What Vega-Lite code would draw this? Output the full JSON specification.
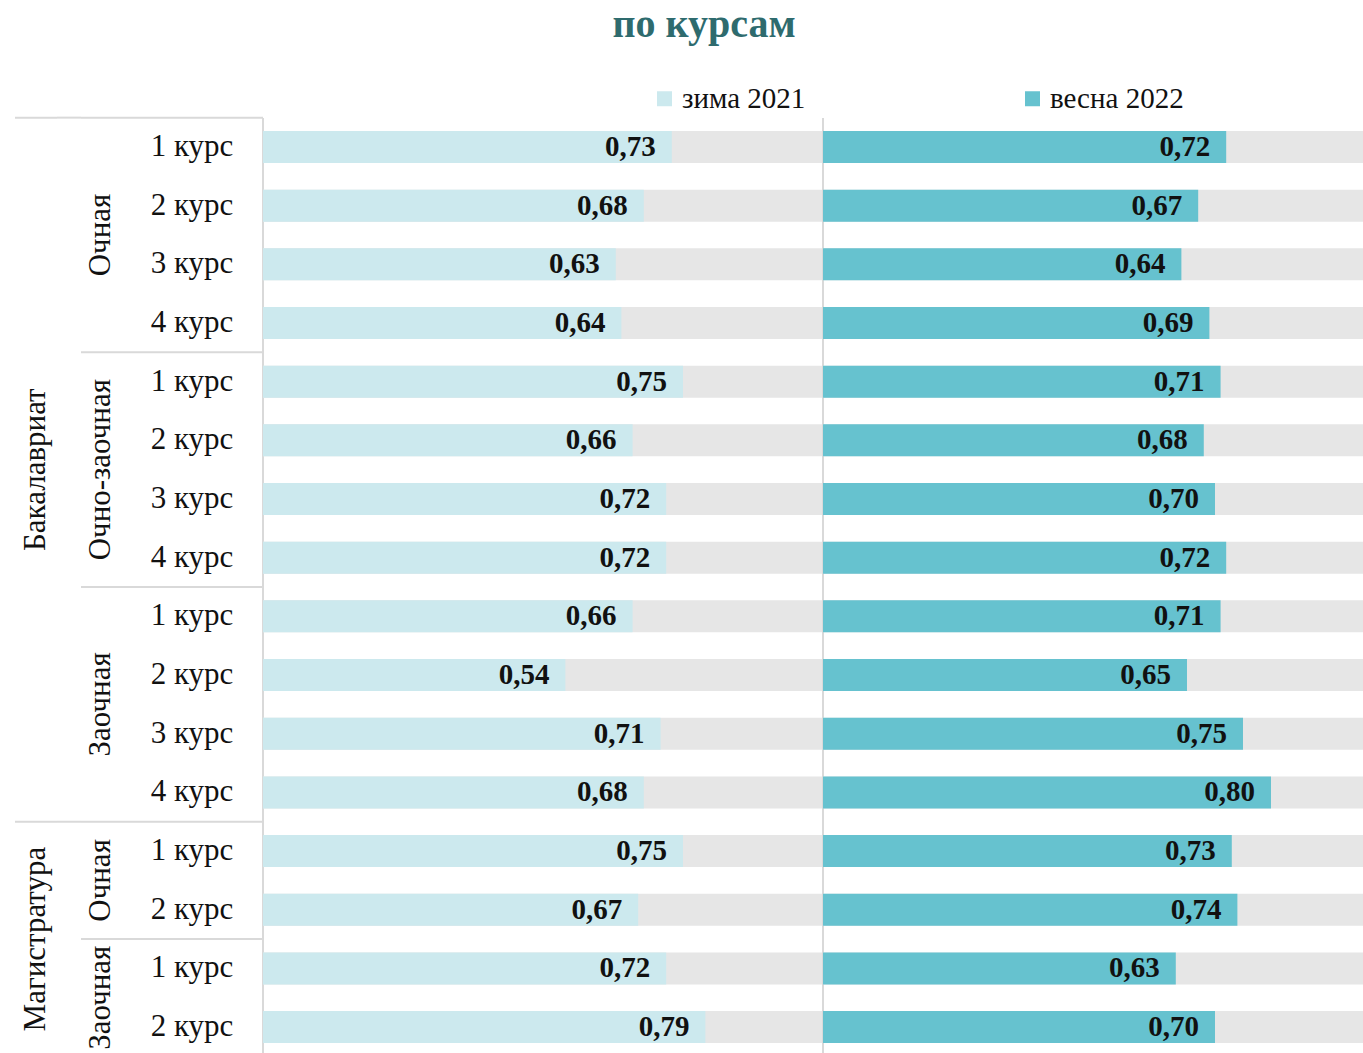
{
  "$schema": "https://vega.github.io/schema/vega-lite/v6.json",
  "padding": {"left": 14, "top": 5, "right": 0, "bottom": 0},
  "autosize": {"type": "pad"},
  "background": "white",
  "title": {"text": "по курсам", "font": "Liberation Serif", "fontSize": 40, "fontWeight": "bold", "color": "#2E6B6E", "anchor": "middle", "offset": 39, "dx": 15},
  "data": {"values": [
    {"i": 0, "program": "Бакалавриат", "form": "Очная", "course": "1 курс", "season": "зима 2021", "value": 0.73},
    {"i": 1, "program": "Бакалавриат", "form": "Очная", "course": "2 курс", "season": "зима 2021", "value": 0.68},
    {"i": 2, "program": "Бакалавриат", "form": "Очная", "course": "3 курс", "season": "зима 2021", "value": 0.63},
    {"i": 3, "program": "Бакалавриат", "form": "Очная", "course": "4 курс", "season": "зима 2021", "value": 0.64},
    {"i": 4, "program": "Бакалавриат", "form": "Очно-заочная", "course": "1 курс", "season": "зима 2021", "value": 0.75},
    {"i": 5, "program": "Бакалавриат", "form": "Очно-заочная", "course": "2 курс", "season": "зима 2021", "value": 0.66},
    {"i": 6, "program": "Бакалавриат", "form": "Очно-заочная", "course": "3 курс", "season": "зима 2021", "value": 0.72},
    {"i": 7, "program": "Бакалавриат", "form": "Очно-заочная", "course": "4 курс", "season": "зима 2021", "value": 0.72},
    {"i": 8, "program": "Бакалавриат", "form": "Заочная", "course": "1 курс", "season": "зима 2021", "value": 0.66},
    {"i": 9, "program": "Бакалавриат", "form": "Заочная", "course": "2 курс", "season": "зима 2021", "value": 0.54},
    {"i": 10, "program": "Бакалавриат", "form": "Заочная", "course": "3 курс", "season": "зима 2021", "value": 0.71},
    {"i": 11, "program": "Бакалавриат", "form": "Заочная", "course": "4 курс", "season": "зима 2021", "value": 0.68},
    {"i": 12, "program": "Магистратура", "form": "Очная", "course": "1 курс", "season": "зима 2021", "value": 0.75},
    {"i": 13, "program": "Магистратура", "form": "Очная", "course": "2 курс", "season": "зима 2021", "value": 0.67},
    {"i": 14, "program": "Магистратура", "form": "Заочная", "course": "1 курс", "season": "зима 2021", "value": 0.72},
    {"i": 15, "program": "Магистратура", "form": "Заочная", "course": "2 курс", "season": "зима 2021", "value": 0.79},
    {"i": 0, "program": "Бакалавриат", "form": "Очная", "course": "1 курс", "season": "весна 2022", "value": 0.72},
    {"i": 1, "program": "Бакалавриат", "form": "Очная", "course": "2 курс", "season": "весна 2022", "value": 0.67},
    {"i": 2, "program": "Бакалавриат", "form": "Очная", "course": "3 курс", "season": "весна 2022", "value": 0.64},
    {"i": 3, "program": "Бакалавриат", "form": "Очная", "course": "4 курс", "season": "весна 2022", "value": 0.69},
    {"i": 4, "program": "Бакалавриат", "form": "Очно-заочная", "course": "1 курс", "season": "весна 2022", "value": 0.71},
    {"i": 5, "program": "Бакалавриат", "form": "Очно-заочная", "course": "2 курс", "season": "весна 2022", "value": 0.68},
    {"i": 6, "program": "Бакалавриат", "form": "Очно-заочная", "course": "3 курс", "season": "весна 2022", "value": 0.70},
    {"i": 7, "program": "Бакалавриат", "form": "Очно-заочная", "course": "4 курс", "season": "весна 2022", "value": 0.72},
    {"i": 8, "program": "Бакалавриат", "form": "Заочная", "course": "1 курс", "season": "весна 2022", "value": 0.71},
    {"i": 9, "program": "Бакалавриат", "form": "Заочная", "course": "2 курс", "season": "весна 2022", "value": 0.65},
    {"i": 10, "program": "Бакалавриат", "form": "Заочная", "course": "3 курс", "season": "весна 2022", "value": 0.75},
    {"i": 11, "program": "Бакалавриат", "form": "Заочная", "course": "4 курс", "season": "весна 2022", "value": 0.80},
    {"i": 12, "program": "Магистратура", "form": "Очная", "course": "1 курс", "season": "весна 2022", "value": 0.73},
    {"i": 13, "program": "Магистратура", "form": "Очная", "course": "2 курс", "season": "весна 2022", "value": 0.74},
    {"i": 14, "program": "Магистратура", "form": "Заочная", "course": "1 курс", "season": "весна 2022", "value": 0.63},
    {"i": 15, "program": "Магистратура", "form": "Заочная", "course": "2 курс", "season": "весна 2022", "value": 0.70}
  ]},
  "spacing": 0,
  "bounds": "flush",
  "hconcat": [
    {
      "width": 42, "height": 935,
      "transform": [
        {"filter": "datum.season === 'зима 2021'"},
        {"joinaggregate": [{"op": "min", "field": "i", "as": "pmin"}, {"op": "count", "as": "pcount"}], "groupby": ["program"]}
      ],
      "layer": [
        {
          "transform": [{"filter": "datum.i === datum.pmin"}],
          "mark": {"type": "rule", "color": "#D9D9D9", "strokeWidth": 2},
          "encoding": {"y": {"field": "i", "type": "ordinal", "bandPosition": -0.4168, "axis": null,
            "scale": {"type": "band", "domain": [0,1,2,3,4,5,6,7,8,9,10,11,12,13,14,15], "paddingInner": 0.4546, "paddingOuter": 0.195, "align": 0.567}}}
        },
        {
          "transform": [{"filter": "datum.i === datum.pmin + datum.pcount / 2"}],
          "mark": {"type": "text", "angle": 270, "align": "center", "baseline": "middle", "font": "Liberation Serif", "fontSize": 31, "color": "#111111"},
          "encoding": {
            "y": {"field": "i", "type": "ordinal", "bandPosition": -0.4168, "axis": null},
            "text": {"field": "program", "type": "nominal"}
          }
        }
      ]
    },
    {
      "width": 24, "height": 935,
      "transform": [
        {"filter": "datum.season === 'зима 2021'"},
        {"joinaggregate": [{"op": "min", "field": "i", "as": "pmin"}], "groupby": ["program"]},
        {"filter": "datum.i === datum.pmin"}
      ],
      "mark": {"type": "rule", "color": "#D9D9D9", "strokeWidth": 2},
      "encoding": {"y": {"field": "i", "type": "ordinal", "bandPosition": -0.4168, "axis": null,
        "scale": {"type": "band", "domain": [0,1,2,3,4,5,6,7,8,9,10,11,12,13,14,15], "paddingInner": 0.4546, "paddingOuter": 0.195, "align": 0.567}}}
    },
    {
      "width": 40, "height": 935,
      "transform": [
        {"filter": "datum.season === 'зима 2021'"},
        {"joinaggregate": [{"op": "min", "field": "i", "as": "fmin"}, {"op": "count", "as": "fcount"}], "groupby": ["program", "form"]}
      ],
      "layer": [
        {
          "transform": [{"filter": "datum.i === datum.fmin"}],
          "mark": {"type": "rule", "color": "#D9D9D9", "strokeWidth": 2},
          "encoding": {"y": {"field": "i", "type": "ordinal", "bandPosition": -0.4168, "axis": null,
            "scale": {"type": "band", "domain": [0,1,2,3,4,5,6,7,8,9,10,11,12,13,14,15], "paddingInner": 0.4546, "paddingOuter": 0.195, "align": 0.567}}}
        },
        {
          "transform": [{"filter": "datum.i === datum.fmin + datum.fcount / 2"}],
          "mark": {"type": "text", "angle": 270, "align": "center", "baseline": "middle", "font": "Liberation Serif", "fontSize": 31, "color": "#111111"},
          "encoding": {
            "y": {"field": "i", "type": "ordinal", "bandPosition": -0.4168, "axis": null},
            "text": {"field": "form", "type": "nominal"}
          }
        }
      ]
    },
    {
      "width": 142, "height": 935,
      "transform": [
        {"filter": "datum.season === 'зима 2021'"},
        {"joinaggregate": [{"op": "min", "field": "i", "as": "fmin"}], "groupby": ["program", "form"]}
      ],
      "layer": [
        {
          "transform": [{"filter": "datum.i === datum.fmin"}],
          "mark": {"type": "rule", "color": "#D9D9D9", "strokeWidth": 2},
          "encoding": {"y": {"field": "i", "type": "ordinal", "bandPosition": -0.4168, "axis": null,
            "scale": {"type": "band", "domain": [0,1,2,3,4,5,6,7,8,9,10,11,12,13,14,15], "paddingInner": 0.4546, "paddingOuter": 0.195, "align": 0.567}}}
        },
        {
          "mark": {"type": "text", "align": "center", "baseline": "middle", "font": "Liberation Serif", "fontSize": 31, "color": "#111111"},
          "encoding": {
            "y": {"field": "i", "type": "ordinal", "axis": null},
            "text": {"field": "course", "type": "nominal"}
          }
        }
      ]
    },
    {
      "width": 560, "height": 935,
      "transform": [{"filter": "datum.season === 'зима 2021'"}],
      "encoding": {
        "y": {"field": "i", "type": "ordinal", "axis": null,
          "scale": {"type": "band", "domain": [0,1,2,3,4,5,6,7,8,9,10,11,12,13,14,15], "paddingInner": 0.4546, "paddingOuter": 0.195, "align": 0.567}}
      },
      "layer": [
        {
          "mark": {"type": "rule", "color": "#D9D9D9", "strokeWidth": 2},
          "encoding": {"y": null, "x": {"datum": 0, "type": "quantitative", "scale": {"domain": [0, 1], "nice": false, "zero": true}, "axis": null}}
        },
        {
          "mark": {"type": "bar", "color": "#E6E6E6"},
          "encoding": {"x": {"datum": 1, "type": "quantitative"}}
        },
        {
          "mark": {"type": "bar"},
          "encoding": {
            "x": {"field": "value", "type": "quantitative"},
            "color": {"field": "season", "type": "nominal",
              "scale": {"domain": ["зима 2021", "весна 2022"], "range": ["#CCE9EE", "#66C2CF"]},
              "legend": {"orient": "none", "legendX": 635, "legendY": -34, "direction": "horizontal", "title": null,
                "symbolType": "square", "symbolSize": 225, "symbolStrokeWidth": 0, "symbolOpacity": 1,
                "labelFont": "Liberation Serif", "labelFontSize": 29, "labelColor": "#111111", "labelOffset": 3,
                "columnPadding": 212, "labelLimit": 300}}
          }
        },
        {
          "mark": {"type": "text", "align": "right", "baseline": "middle", "dx": -16, "font": "Liberation Serif", "fontSize": 29, "fontWeight": "bold", "color": "#111111"},
          "encoding": {
            "x": {"field": "value", "type": "quantitative"},
            "text": {"field": "value", "type": "quantitative", "format": ".2f"}
          }
        }
      ]
    },
    {
      "width": 541, "height": 935,
      "transform": [{"filter": "datum.season === 'весна 2022'"}],
      "encoding": {
        "y": {"field": "i", "type": "ordinal", "axis": null,
          "scale": {"type": "band", "domain": [0,1,2,3,4,5,6,7,8,9,10,11,12,13,14,15], "paddingInner": 0.4546, "paddingOuter": 0.195, "align": 0.567}}
      },
      "layer": [
        {
          "mark": {"type": "rule", "color": "#D9D9D9", "strokeWidth": 2},
          "encoding": {"y": null, "x": {"datum": 0, "type": "quantitative", "scale": {"domain": [0, 0.9661], "nice": false, "zero": true, "clamp": true}, "axis": null}}
        },
        {
          "mark": {"type": "bar", "color": "#E6E6E6"},
          "encoding": {"x": {"datum": 1, "type": "quantitative"}}
        },
        {
          "mark": {"type": "bar"},
          "encoding": {
            "x": {"field": "value", "type": "quantitative"},
            "color": {"field": "season", "type": "nominal",
              "scale": {"domain": ["зима 2021", "весна 2022"], "range": ["#CCE9EE", "#66C2CF"]}}
          }
        },
        {
          "mark": {"type": "text", "align": "right", "baseline": "middle", "dx": -16, "font": "Liberation Serif", "fontSize": 29, "fontWeight": "bold", "color": "#111111"},
          "encoding": {
            "x": {"field": "value", "type": "quantitative"},
            "text": {"field": "value", "type": "quantitative", "format": ".2f"}
          }
        }
      ]
    }
  ],
  "config": {
    "view": {"stroke": null},
    "locale": {"number": {"decimal": ",", "thousands": " ", "grouping": [3], "currency": ["", ""]}},
    "font": "Liberation Serif"
  }
}
